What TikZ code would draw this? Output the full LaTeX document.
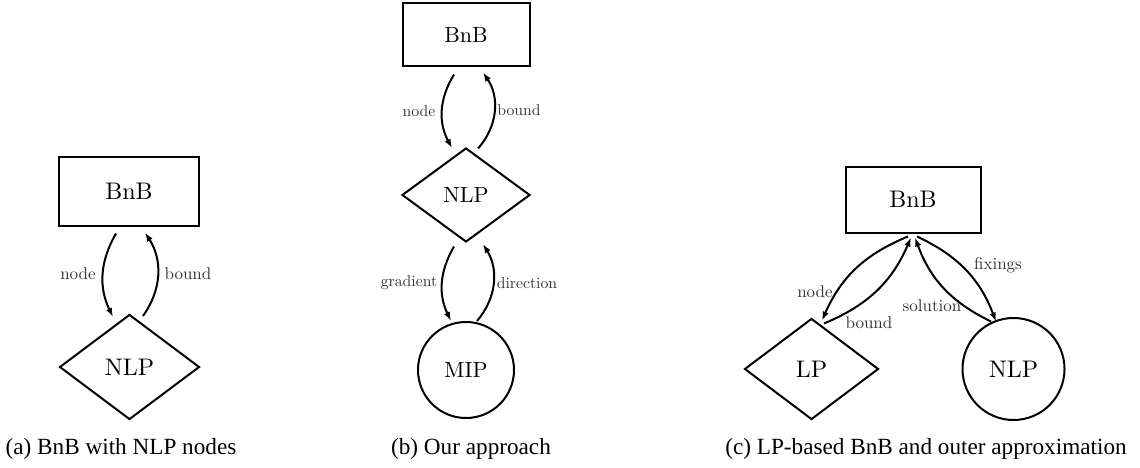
\documentclass[tikz,border=0pt]{standalone}
\usepackage{fontspec}
\setmainfont{lmroman10-regular}[Extension=.otf]
\newfontfamily\capfont{Liberation Serif}
\usetikzlibrary{shapes.geometric,arrows.meta}
\tikzset{
  box/.style={draw, line width=2pt, rectangle, inner sep=0pt},
  dia/.style={draw, line width=2pt, diamond, inner sep=0pt},
  circ/.style={draw, line width=2pt, circle, inner sep=0pt},
  conn/.style={line width=2pt, -{Latex[length=9pt,width=6.5pt]}},
  lblbig/.style={text=black!80, inner sep=0pt, font=\fontsize{17}{20}\selectfont},
  lblsmall/.style={text=black!80, inner sep=0pt, font=\fontsize{15.7}{19}\selectfont},
  captext/.style={anchor=base, inner sep=0pt, font=\capfont\fontsize{23.2}{27}\selectfont},
}
\begin{document}
\begin{tikzpicture}[x=1pt,y=-1pt]
\useasboundingbox (0,0) rectangle (1140,468);
% ---------- (a)
\node[box, minimum width=140pt, minimum height=69pt, font=\fontsize{24}{28}\selectfont] (bA) at (129,191.5) {BnB};
\node[dia, minimum width=140pt, minimum height=105pt, font=\fontsize{24}{28}\selectfont] (dA) at (129.5,367) {NLP};
\draw[conn] ([xshift=-13pt,yshift=-6.5pt]bA.south) to[bend right=28] ([xshift=-16.5pt,yshift=-3.5pt]dA.north);
\draw[conn] ([xshift=13.5pt,yshift=-2.5pt]dA.north) to[bend right=34] ([xshift=16pt,yshift=-5.5pt]bA.south);
\node[lblbig] (lA1) at (78,274) {node};
\node[lblbig] (lA2) at (188,274) {bound};
\node[captext] (cA) at (121,454) {(a) BnB with NLP nodes};
% ---------- (b)
\node[box, minimum width=127pt, minimum height=63pt, font=\fontsize{22}{26}\selectfont] (bB) at (466,35) {BnB};
\node[dia, minimum width=128pt, minimum height=94pt, font=\fontsize{22}{26}\selectfont] (dB) at (466,195) {NLP};
\node[circ, minimum size=96pt, font=\fontsize{22}{26}\selectfont] (cB) at (466,370) {MIP};
\draw[conn] ([xshift=-12pt,yshift=-7pt]bB.south) to[bend right=30] ([xshift=-14pt,yshift=-1pt]dB.north);
\draw[conn] ([xshift=12pt,yshift=-1.5pt]dB.north) to[bend right=38] ([xshift=17pt,yshift=-5pt]bB.south);
\draw[conn] ([xshift=-12pt,yshift=-3.5pt]dB.south) to[bend right=28] ([xshift=-15pt,yshift=0pt]cB.north);
\draw[conn] ([xshift=11pt,yshift=0pt]cB.north) to[bend right=36] ([xshift=17pt,yshift=-1pt]dB.south);
\node[lblsmall] (lB1) at (419,111) {node};
\node[lblsmall] (lB2) at (519,110) {bound};
\node[lblsmall] (lB3) at (409,283) {gradient};
\node[lblsmall] (lB4) at (527,283) {direction};
\node[captext] (cBc) at (471,454) {(b) Our approach};
% ---------- (c)
\node[box, minimum width=135pt, minimum height=66pt, font=\fontsize{24}{28}\selectfont] (bC) at (913,199.5) {BnB};
\node[dia, minimum width=134pt, minimum height=101pt, font=\fontsize{24}{28}\selectfont] (lpC) at (811.5,369) {LP};
\node[circ, minimum size=102pt, font=\fontsize{24}{28}\selectfont] (nC) at (1013.5,369) {NLP};
\draw[conn] ([xshift=-5pt,yshift=-3pt]bC.south) to[bend right=22] ([xshift=10.5pt,yshift=-3pt]lpC.north);
\draw[conn] ([xshift=12.5pt,yshift=-6pt]lpC.north) to[bend right=22] ([xshift=-2pt,yshift=-4pt]bC.south);
\draw[conn] ([xshift=4pt,yshift=-3pt]bC.south) to[bend left=22] ([xshift=-17.5pt,yshift=-4.5pt]nC.north);
\draw[conn] ([xshift=-22.5pt,yshift=-4.5pt]nC.north) to[bend left=22] ([xshift=2pt,yshift=-4pt]bC.south);
\node[lblbig] (lC1) at (815,292) {node};
\node[lblbig] (lC2) at (869,323) {bound};
\node[lblbig] (lC3) at (932,306) {solution};
\node[lblbig] (lC4) at (998,265) {fixings};
\node[captext] (cC) at (926,454) {(c) LP-based BnB and outer approximation};
\end{tikzpicture}
\end{document}
